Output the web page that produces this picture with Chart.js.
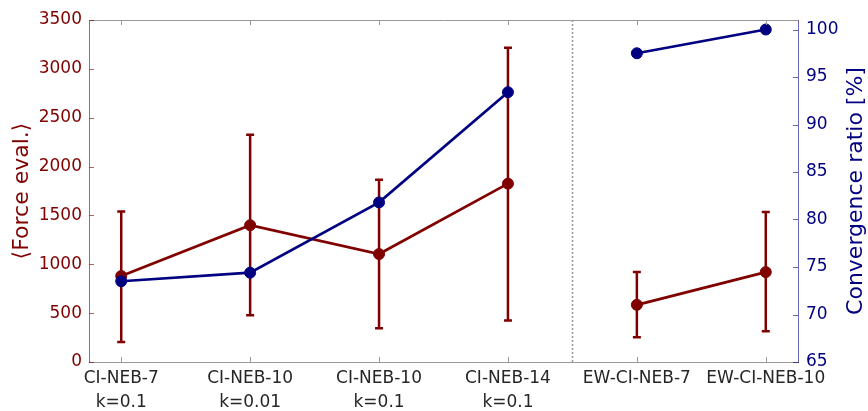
<!DOCTYPE html>
<html>
<head>
<meta charset="utf-8">
<script src="https://cdn.jsdelivr.net/npm/chart.js@4.4.0/dist/chart.umd.min.js"></script>
<style>
html,body{margin:0;padding:0;background:#fff;}
</style>
</head>
<body>
<canvas id="chart1" width="868" height="411"></canvas>
<script>
var methods = [["CI-NEB-7","k=0.1"],["CI-NEB-10","k=0.01"],["CI-NEB-10","k=0.1"],["CI-NEB-14","k=0.1"],["EW-CI-NEB-7"],["EW-CI-NEB-10"]];
var forceMean = [880,1400,1105,1825,585,920];
var forceLow  = [205,478,345,425,253,314];
var forceHigh = [1540,2325,1865,3215,921,1535];
var convRatio = [73.5,74.4,81.8,93.4,97.5,100];
var forceTicks = [0,500,1000,1500,2000,2500,3000,3500];
var convTicks = [65,70,75,80,85,90,95,100];
var splitAfter = 4; // CI-NEB runs | EW-CI-NEB runs

var RED = "#800000", BLUE = "#000080";
var FONT = "'DejaVu Sans', sans-serif";

function toPoints(vals){
  var pts = [];
  vals.forEach(function(v,i){
    if (i == splitAfter) pts.push({x: splitAfter+0.5, y: null});
    pts.push({x: i+1, y: v});
  });
  return pts;
}

function setTicks(values){
  return function(scale){
    scale.ticks = values.map(function(v){ return {value: v}; });
  };
}

function plain(v){ return String(v); }

// error bars, separator line, box ticks pointing inwards, right title
var extras = {
  id: 'extras',
  beforeDatasetsDraw: function(chart){
    var ctx = chart.ctx, x = chart.scales.x, y = chart.scales.y;
    var a = chart.chartArea;
    ctx.save();
    // dotted separator
    ctx.strokeStyle = "#999";
    ctx.lineWidth = 1.5;
    ctx.setLineDash([2,2]);
    var sx = Math.round(x.getPixelForValue(splitAfter+0.5)) + 0.5;
    ctx.beginPath(); ctx.moveTo(sx, a.top); ctx.lineTo(sx, a.bottom); ctx.stroke();
    ctx.setLineDash([]);
    // error bars
    ctx.strokeStyle = RED;
    ctx.lineWidth = 2.5;
    forceMean.forEach(function(m,i){
      var px = x.getPixelForValue(i+1);
      var lo = y.getPixelForValue(forceLow[i]), hi = y.getPixelForValue(forceHigh[i]);
      ctx.beginPath();
      ctx.moveTo(px, lo); ctx.lineTo(px, hi);
      ctx.moveTo(px-4, lo); ctx.lineTo(px+4, lo);
      ctx.moveTo(px-4, hi); ctx.lineTo(px+4, hi);
      ctx.stroke();
    });
    ctx.restore();
  },
  afterDraw: function(chart){
    var ctx = chart.ctx, a = chart.chartArea;
    var x = chart.scales.x, y = chart.scales.y, y1 = chart.scales.y1;
    ctx.save();
    ctx.lineWidth = 1;
    // top border
    ctx.strokeStyle = "#999";
    ctx.beginPath(); ctx.moveTo(a.left, a.top+0.5); ctx.lineTo(a.right, a.top+0.5); ctx.stroke();
    ctx.beginPath();
    methods.forEach(function(m,i){
      var px = Math.round(x.getPixelForValue(i+1)) + 0.5;
      ctx.moveTo(px, a.bottom); ctx.lineTo(px, a.bottom-5);
      ctx.moveTo(px, a.top); ctx.lineTo(px, a.top+5);
    });
    ctx.stroke();
    ctx.strokeStyle = "rgba(128,0,0,0.6)";
    ctx.beginPath();
    forceTicks.forEach(function(v){
      var py = Math.round(y.getPixelForValue(v)) + 0.5;
      ctx.moveTo(a.left, py); ctx.lineTo(a.left+5, py);
    });
    ctx.stroke();
    ctx.strokeStyle = "rgba(0,0,128,0.6)";
    ctx.beginPath();
    convTicks.forEach(function(v){
      var py = Math.round(y1.getPixelForValue(v)) + 0.5;
      ctx.moveTo(a.right, py); ctx.lineTo(a.right-5, py);
    });
    ctx.stroke();
    // right axis title, reading upwards
    ctx.fillStyle = BLUE;
    ctx.font = "22px " + FONT;
    ctx.textAlign = "center";
    ctx.textBaseline = "middle";
    ctx.translate(856, (a.top + a.bottom)/2);
    ctx.rotate(-Math.PI/2);
    ctx.fillText("Convergence ratio [%]", 0, 0);
    ctx.restore();
  }
};

var ctx = document.getElementById("chart1").getContext("2d");
var myChart = new Chart(ctx, {
  type: 'line',
  data: {
    datasets: [{
      label: 'Convergence ratio',
      data: toPoints(convRatio),
      yAxisID: 'y1',
      borderColor: BLUE,
      backgroundColor: BLUE,
      borderWidth: 2.7,
      pointRadius: 5.5,
      pointBorderWidth: 1,
      spanGaps: false
    },{
      label: 'Force evaluations',
      data: toPoints(forceMean),
      yAxisID: 'y',
      borderColor: RED,
      backgroundColor: RED,
      borderWidth: 2.7,
      pointRadius: 5.5,
      pointBorderWidth: 1,
      spanGaps: false
    }]
  },
  options: {
    responsive: false,
    animation: false,
    devicePixelRatio: 1,
    layout: {padding: {top: 20, left: 0, right: 0, bottom: 0}},
    plugins: {legend: {display: false}, tooltip: {enabled: false}},
    scales: {
      x: {
        type: 'linear',
        min: 0.75,
        max: 6.25,
        afterBuildTicks: setTicks([1,2,3,4,5,6]),
        afterFit: function(s){ s.height = 49; },
        grid: {display: false, drawTicks: false},
        border: {display: true, color: "#999", width: 1},
        ticks: {
          padding: 5,
          color: "#262626",
          maxRotation: 0,
          autoSkip: false,
          font: {family: FONT, size: 17, lineHeight: 1.4},
          callback: function(v){ return methods[v-1] || ''; }
        }
      },
      y: {
        position: 'left',
        min: 0,
        max: 3500,
        afterBuildTicks: setTicks(forceTicks),
        afterFit: function(s){ s.width = 89; },
        grid: {display: false, drawTicks: false},
        border: {display: true, color: "rgba(128,0,0,0.6)", width: 1},
        ticks: {padding: 7, color: RED, font: {family: FONT, size: 17}, callback: plain},
        title: {display: true, text: "\u27E8Force eval.\u27E9", color: RED,
                font: {family: FONT, size: 22}, padding: {top: 9, bottom: 0}}
      },
      y1: {
        position: 'right',
        min: 65,
        max: 101,
        afterBuildTicks: setTicks(convTicks),
        afterFit: function(s){ s.width = 70; },
        grid: {display: false, drawTicks: false},
        border: {display: true, color: "rgba(0,0,128,0.6)", width: 1},
        ticks: {padding: 8, color: BLUE, font: {family: FONT, size: 17}, callback: plain}
      }
    }
  },
  plugins: [extras]
});
</script>
</body>
</html>
